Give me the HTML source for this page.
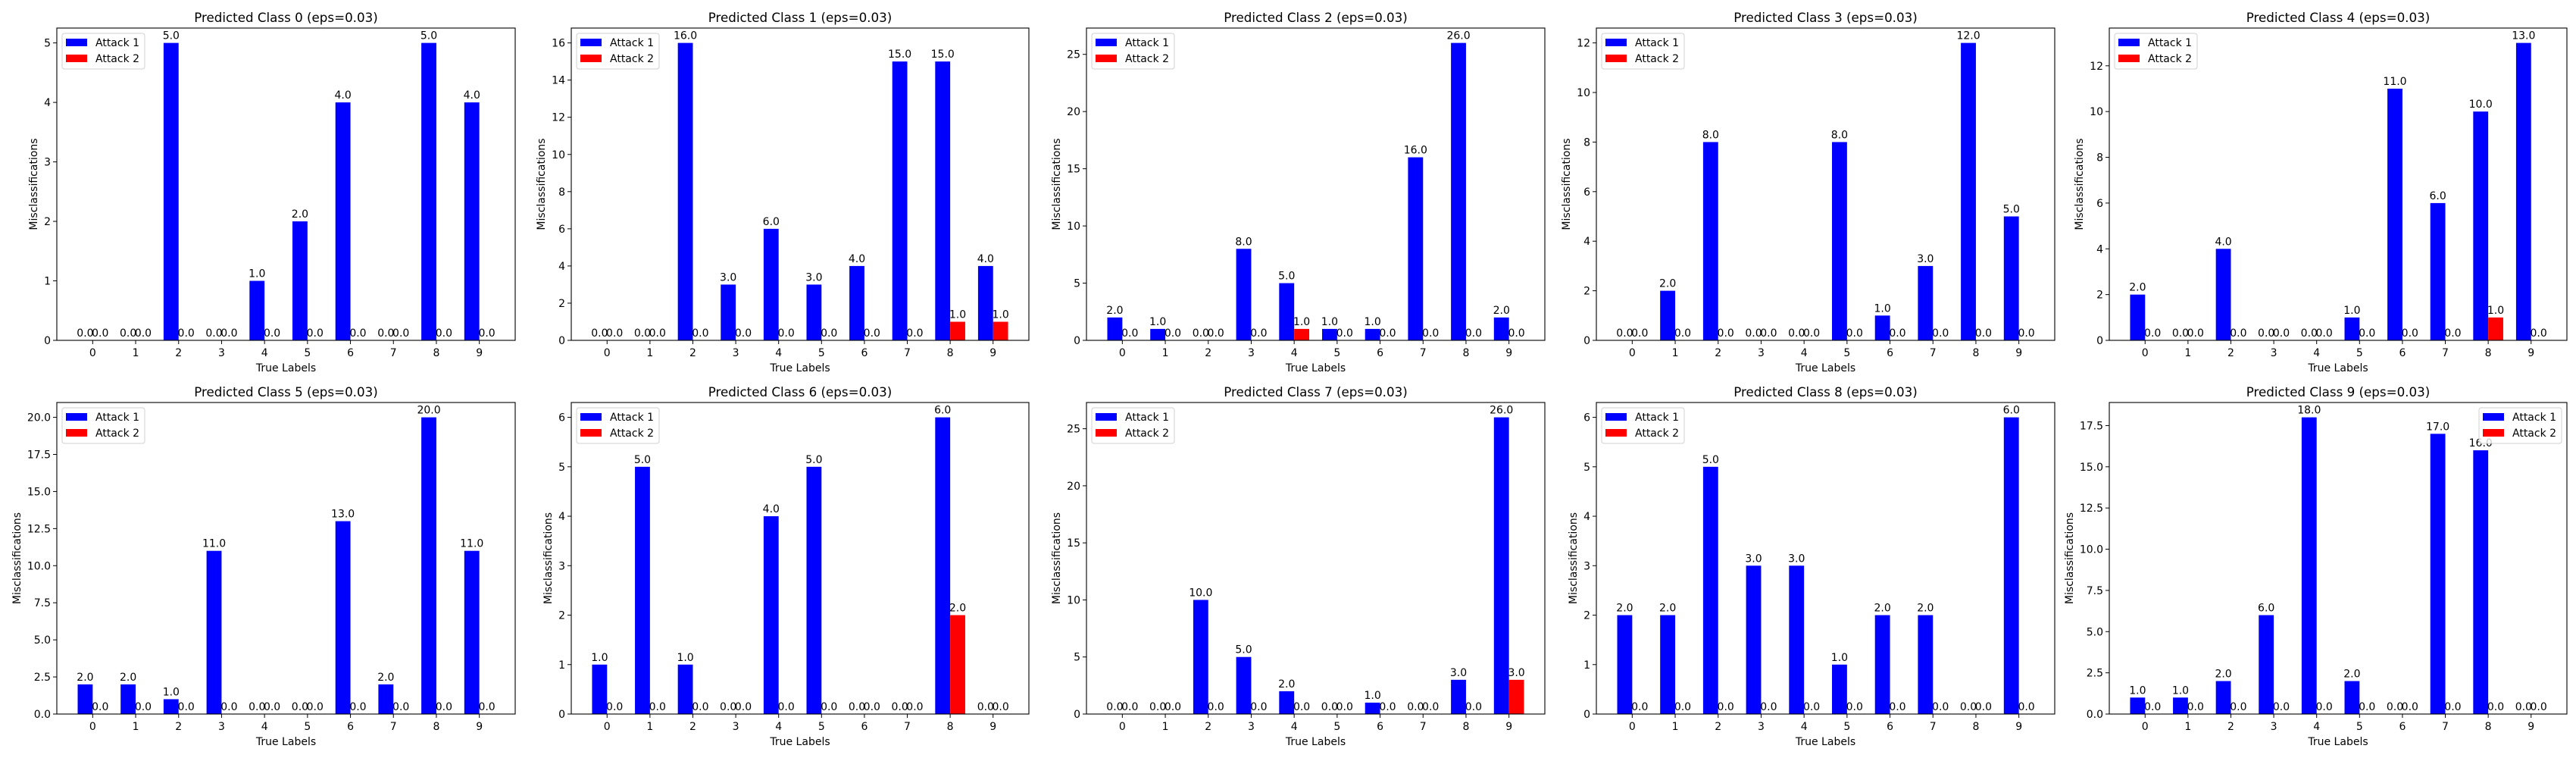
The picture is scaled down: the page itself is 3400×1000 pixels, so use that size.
<!DOCTYPE html>
<html><head><meta charset="utf-8">
<style>
html,body{margin:0;padding:0;background:#fff;}
svg{display:block;font-family:"DejaVu Sans","Liberation Sans",sans-serif;}
</style></head>
<body>
<svg id="fig" width="3400" height="1000" viewBox="0 0 3400 1000" xmlns="http://www.w3.org/2000/svg">
<rect x="0" y="0" width="3400" height="1000" fill="#fff"/>
</svg>
<script>
const categories = ["0","1","2","3","4","5","6","7","8","9"];
const attack1_c0 = [0,0,5,0,1,2,4,0,5,4];
const attack2_c0 = [0,0,0,0,0,0,0,0,0,0];
const attack1_c1 = [0,0,16,3,6,3,4,15,15,4];
const attack2_c1 = [0,0,0,0,0,0,0,0,1,1];
const attack1_c2 = [2,1,0,8,5,1,1,16,26,2];
const attack2_c2 = [0,0,0,0,1,0,0,0,0,0];
const attack1_c3 = [0,2,8,0,0,8,1,3,12,5];
const attack2_c3 = [0,0,0,0,0,0,0,0,0,0];
const attack1_c4 = [2,0,4,0,0,1,11,6,10,13];
const attack2_c4 = [0,0,0,0,0,0,0,0,1,0];
const attack1_c5 = [2,2,1,11,0,0,13,2,20,11];
const attack2_c5 = [0,0,0,0,0,0,0,0,0,0];
const attack1_c6 = [1,5,1,0,4,5,0,0,6,0];
const attack2_c6 = [0,0,0,0,0,0,0,0,2,0];
const attack1_c7 = [0,0,10,5,2,0,1,0,3,26];
const attack2_c7 = [0,0,0,0,0,0,0,0,0,3];
const attack1_c8 = [2,2,5,3,3,1,2,2,0,6];
const attack2_c8 = [0,0,0,0,0,0,0,0,0,0];
const attack1_c9 = [1,1,2,6,18,2,0,17,16,0];
const attack2_c9 = [0,0,0,0,0,0,0,0,0,0];
const yTicks_c0 = [0,1,2,3,4,5];
const yTicks_c1 = [0,2,4,6,8,10,12,14,16];
const yTicks_c2 = [0,5,10,15,20,25];
const yTicks_c3 = [0,2,4,6,8,10,12];
const yTicks_c4 = [0,2,4,6,8,10,12];
const yTicks_c5 = [0,2.5,5,7.5,10,12.5,15,17.5,20];
const yTicks_c6 = [0,1,2,3,4,5,6];
const yTicks_c7 = [0,5,10,15,20,25];
const yTicks_c8 = [0,1,2,3,4,5,6];
const yTicks_c9 = [0,2.5,5,7.5,10,12.5,15,17.5];
const yTickDecimals = [0,0,0,0,0,1,0,0,0,1];
const legendRight = [false,false,false,false,false,false,false,false,false,true];

const A1 = [attack1_c0,attack1_c1,attack1_c2,attack1_c3,attack1_c4,attack1_c5,attack1_c6,attack1_c7,attack1_c8,attack1_c9];
const A2 = [attack2_c0,attack2_c1,attack2_c2,attack2_c3,attack2_c4,attack2_c5,attack2_c6,attack2_c7,attack2_c8,attack2_c9];
const YT = [yTicks_c0,yTicks_c1,yTicks_c2,yTicks_c3,yTicks_c4,yTicks_c5,yTicks_c6,yTicks_c7,yTicks_c8,yTicks_c9];

const svg = document.getElementById('fig');
const NS = 'http://www.w3.org/2000/svg';
function mk(tag, attrs, parent){
  const e = document.createElementNS(NS, tag);
  for (const k in attrs) e.setAttribute(k, attrs[k]);
  (parent||svg).appendChild(e);
  return e;
}
const colL = [75,754,1434,2107,2784];
const colR = [680,1358,2039,2712,3388];
const rowT = [37,531];
const rowB = [449,942];
const BW = 0.35;
const FS = 14;

for (let p=0;p<10;p++){
  const c=p%5, r=Math.floor(p/5);
  const L=colL[c], R=colR[c], T=rowT[r], B=rowB[r];
  const g = mk('g',{});
  
  
  const xmin=-BW-0.485, xmax=9+BW+0.485;
  const xs = v => L + (v-xmin)/(xmax-xmin)*(R-L);
  const ymax = Math.max(...A1[p],...A2[p])*1.05;
  const ys = v => B - v/ymax*(B-T);
  // bars
  for (let i=0;i<categories.length;i++){
    const b1 = mk('rect',{x:xs(i-BW),y:ys(A1[p][i]),width:xs(i)-xs(i-BW),height:B-ys(A1[p][i]),fill:'#0000ff'},g);
    
    
    const b2 = mk('rect',{x:xs(i),y:ys(A2[p][i]),width:xs(i+BW)-xs(i),height:B-ys(A2[p][i]),fill:'#ff0000'},g);
    
    
  }
  // value labels
  for (let i=0;i<categories.length;i++){
    const t1 = mk('text',{x:xs(i-BW/2),y:ys(A1[p][i])-5,'font-size':FS,'text-anchor':'middle'},g);
    t1.textContent = A1[p][i].toFixed(1);
    
    
    const t2 = mk('text',{x:xs(i+BW/2),y:ys(A2[p][i])-5,'font-size':FS,'text-anchor':'middle'},g);
    t2.textContent = A2[p][i].toFixed(1);
    
    
  }
  // frame
  const fr = mk('rect',{x:L,y:T,width:R-L,height:B-T,fill:'none',stroke:'#000','stroke-width':1.1},g);
  
  
  // x ticks
  for (let i=0;i<categories.length;i++){
    mk('line',{x1:xs(i),x2:xs(i),y1:B,y2:B+5,stroke:'#000','stroke-width':1},g);
    const t = mk('text',{x:xs(i),y:B+21,'font-size':FS,'text-anchor':'middle'},g);
    t.textContent = categories[i];
    
    
  }
  // y ticks
  let maxW=0;
  for (const v of YT[p]){
    mk('line',{x1:L-5,x2:L,y1:ys(v),y2:ys(v),stroke:'#000','stroke-width':1},g);
    const t = mk('text',{x:L-8,y:ys(v)+5,'font-size':FS,'text-anchor':'end'},g);
    t.textContent = v.toFixed(yTickDecimals[p]);
    
    
    maxW=Math.max(maxW,t.getComputedTextLength());
  }
  // title
  const ti = mk('text',{x:(L+R)/2,y:T-8,'font-size':16.7,'text-anchor':'middle'},g);
  ti.textContent = 'Predicted Class '+p+' (eps=0.03)';
  
  
  const xl = mk('text',{x:(L+R)/2,y:B+41,'font-size':FS,'text-anchor':'middle'},g);
  xl.textContent = 'True Labels';
  
  
  const yx = L-8-maxW-9;
  const yl = mk('text',{x:yx,y:(T+B)/2,'font-size':FS,'text-anchor':'middle',transform:'rotate(-90 '+yx+' '+((T+B)/2)+')'},g);
  yl.textContent = 'Misclassifications';
  
  
  // legend
  const lw=109, lh=47;
  const lx = legendRight[p] ? R-7-lw : L+7;
  const ly = T+7;
  const lg = mk('g',{},g);
  
  
  mk('rect',{x:lx,y:ly,width:lw,height:lh,rx:3,fill:'#fff','fill-opacity':0.8,stroke:'#d0d0d0','stroke-width':1},lg);
  const names=['Attack 1','Attack 2'], cols=['#0000ff','#ff0000'];
  for (let k=0;k<2;k++){
    const ey = ly+12+k*21;
    mk('rect',{x:lx+5,y:ey-5,width:28,height:10,fill:cols[k]},lg);
    const t = mk('text',{x:lx+44,y:ey+5,'font-size':FS},lg);
    t.textContent = names[k];
    
    
  }
}
</script>
</body></html>
